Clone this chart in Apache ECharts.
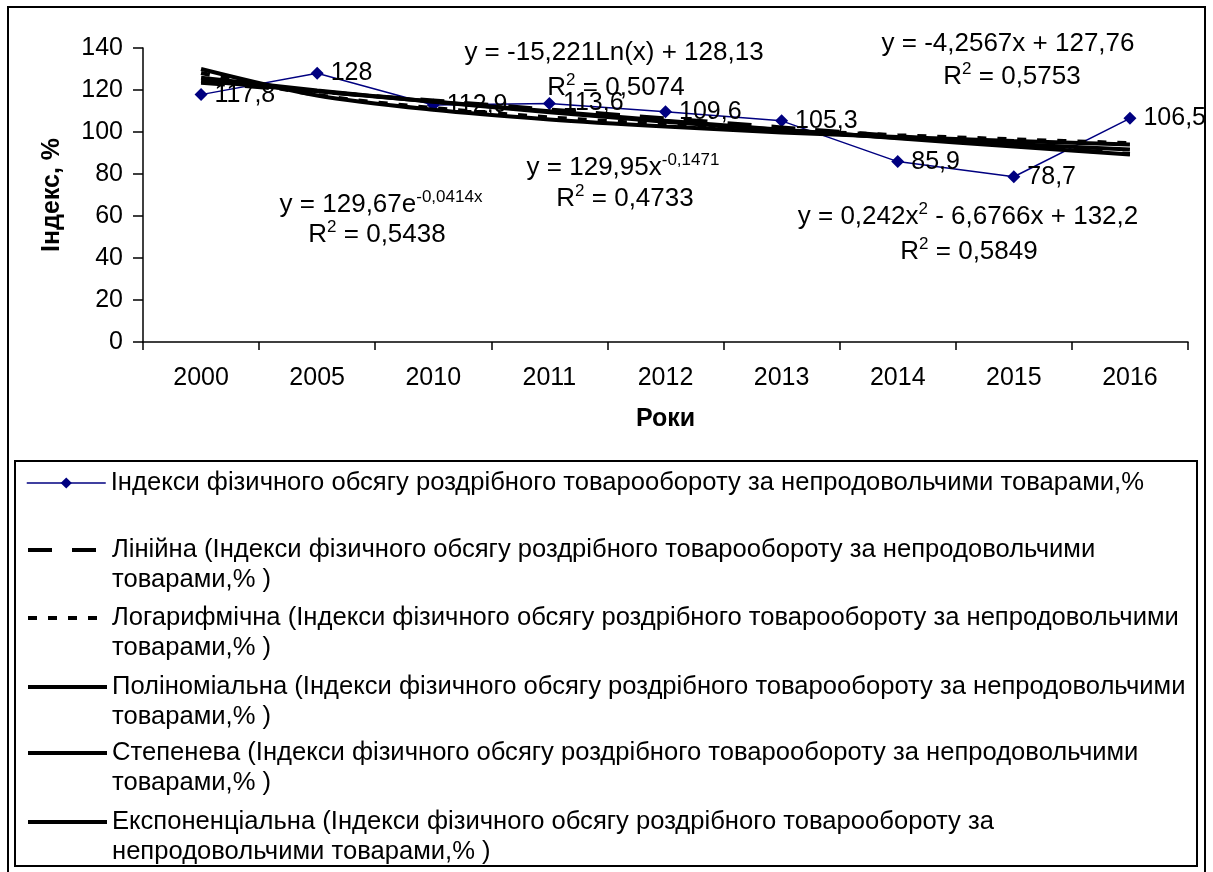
<!DOCTYPE html>
<html>
<head>
<meta charset="utf-8">
<script src="https://cdn.jsdelivr.net/npm/echarts@6/dist/echarts.min.js"></script>
<style>
  html, body { margin: 0; padding: 0; background: #fff; }
  #chart { width: 1213px; height: 872px; }
</style>
</head>
<body>
<div id="chart"></div>
<script>
const FONT = "'Liberation Sans', Arial, sans-serif";

const years = ['2000', '2005', '2010', '2011', '2012', '2013', '2014', '2015', '2016'];
const indexValues = [117.8, 128, 112.9, 113.6, 109.6, 105.3, 85.9, 78.7, 106.5];

// trendline heights at each year
const linearTrend = [123.5, 119.2, 115.0, 110.7, 106.5, 102.2, 98.0, 93.7, 89.5];
const logTrend = [128.1, 117.6, 111.4, 107.0, 103.6, 100.9, 98.5, 96.5, 94.7];
const polyTrend = [125.8, 119.8, 114.4, 109.4, 104.9, 100.9, 97.3, 94.3, 91.7];
const powerTrend = [130.0, 117.4, 110.6, 106.0, 102.6, 99.8, 97.6, 95.7, 94.1];
const expTrend = [124.4, 119.4, 114.5, 109.9, 105.4, 101.1, 97.0, 93.1, 89.3];

const seriesNames = [
    'Індекси фізичного обсягу роздрібного товарообороту за непродовольчими товарами,%',
    'Лінійна (Індекси фізичного обсягу роздрібного товарообороту за непродовольчими\nтоварами,% )',
    'Логарифмічна (Індекси фізичного обсягу роздрібного товарообороту за непродовольчими\nтоварами,% )',
    'Поліноміальна (Індекси фізичного обсягу роздрібного товарообороту за непродовольчими\nтоварами,% )',
    'Степенева (Індекси фізичного обсягу роздрібного товарообороту за непродовольчими\nтоварами,% )',
    'Експоненціальна (Індекси фізичного обсягу роздрібного товарообороту за\nнепродовольчими товарами,% )'
];

// equation labels, rich text ({s|..} = superscript)
const equations = [
    'y = -4,2567x + 127,76', 'R{s|2} = 0,5753',
    'y = -15,221Ln(x) + 128,13', 'R{s|2} = 0,5074',
    'y = 0,242x{s|2} - 6,6766x + 132,2', 'R{s|2} = 0,5849',
    'y = 129,95x{s|-0,1471}', 'R{s|2} = 0,4733',
    'y = 129,67e{s|-0,0414x}', 'R{s|2} = 0,5438'
];
const eqPos = [
    [1008, 44], [1012, 77],
    [614, 53], [616, 88],
    [968, 217], [969, 252],
    [623, 168], [625, 199],
    [381, 205], [377, 235]
];

const comma = v => String(v).replace('.', ',');

const trendData = [linearTrend, logTrend, polyTrend, powerTrend, expTrend];
const trendDash = [[24, 20], [9, 11], 'solid', 'solid', 'solid'];

const series = [{
    name: seriesNames[0],
    type: 'line',
    data: indexValues,
    symbol: 'diamond',
    symbolSize: 13,
    lineStyle: {color: '#000080', width: 1.5},
    itemStyle: {color: '#000080'},
    label: {
        show: true,
        position: 'right',
        distance: 7,
        color: '#000',
        fontFamily: FONT,
        fontSize: 25,
        formatter: p => comma(p.value)
    },
    z: 2
}];
trendData.forEach((d, i) => {
    series.push({
        name: seriesNames[i + 1],
        type: 'line',
        data: d,
        symbol: 'none',
        smooth: 0.3,
        lineStyle: {color: '#000', width: 4, type: trendDash[i]},
        itemStyle: {color: 'rgba(0,0,0,0)'},
        z: 3
    });
});

const legendTops = [468, 505, 573, 642, 708, 777];
const legends = seriesNames.map((name, i) => ({
    data: [name],
    left: 26,
    top: legendTops[i],
    padding: 0,
    itemWidth: 79,
    itemHeight: 14,
    selectedMode: false,
    // blank first line keeps the icon level with the first text line
    formatter: n => (i ? '\n' + n : n),
    textStyle: {
        fontFamily: FONT,
        fontSize: 25.6,
        color: '#000',
        lineHeight: 30
    },
    lineStyle: i ? {color: '#000', width: 4, type: trendDash[i - 1]} : {color: '#000080', width: 1.5},
    itemStyle: i ? {color: 'rgba(0,0,0,0)', borderWidth: 0} : {color: '#000080'}
}));

const graphics = [
    {type: 'rect', shape: {x: 8, y: 7, width: 1197, height: 880},
        style: {fill: 'none', stroke: '#000', lineWidth: 2}, silent: true},
    {type: 'rect', shape: {x: 15, y: 461, width: 1182, height: 405},
        style: {fill: 'none', stroke: '#000', lineWidth: 2}, silent: true}
];
equations.forEach((t, i) => {
    graphics.push({
        type: 'text',
        x: eqPos[i][0],
        y: eqPos[i][1],
        z: 10,
        style: {
            text: t,
            align: 'center',
            verticalAlign: 'middle',
            fontFamily: FONT,
            fontSize: 26,
            lineHeight: 32,
            fill: '#000',
            rich: {
                s: {fontFamily: FONT, fontSize: 17, lineHeight: 19, verticalAlign: 'top', fill: '#000'}
            }
        }
    });
});

const chart = echarts.init(document.getElementById('chart'), null, {renderer: 'canvas'});
chart.setOption({
    animation: false,
    backgroundColor: '#fff',
    grid: {left: 143, right: 25, top: 48, bottom: 530},
    legend: legends,
    xAxis: {
        type: 'category',
        data: years,
        boundaryGap: true,
        name: 'Роки',
        nameLocation: 'middle',
        nameGap: 65,
        nameTextStyle: {fontFamily: FONT, fontSize: 25, fontWeight: 'bold', color: '#000'},
        axisLine: {lineStyle: {color: '#000', width: 1.5}},
        axisTick: {show: true, length: 8, alignWithLabel: false, lineStyle: {color: '#000', width: 1.5}},
        axisLabel: {fontFamily: FONT, fontSize: 25, color: '#000', margin: 24}
    },
    yAxis: {
        type: 'value',
        min: 0,
        max: 140,
        interval: 20,
        name: 'Індекс, %',
        nameLocation: 'middle',
        nameRotate: 90,
        nameGap: 78,
        nameTextStyle: {fontFamily: FONT, fontSize: 25, fontWeight: 'bold', color: '#000'},
        axisLine: {show: true, lineStyle: {color: '#000', width: 1.5}},
        axisTick: {show: true, length: 10, lineStyle: {color: '#000', width: 1.5}},
        axisLabel: {fontFamily: FONT, fontSize: 25, color: '#000', margin: 20},
        splitLine: {show: false}
    },
    series: series,
    graphic: graphics
});
</script>
</body>
</html>
